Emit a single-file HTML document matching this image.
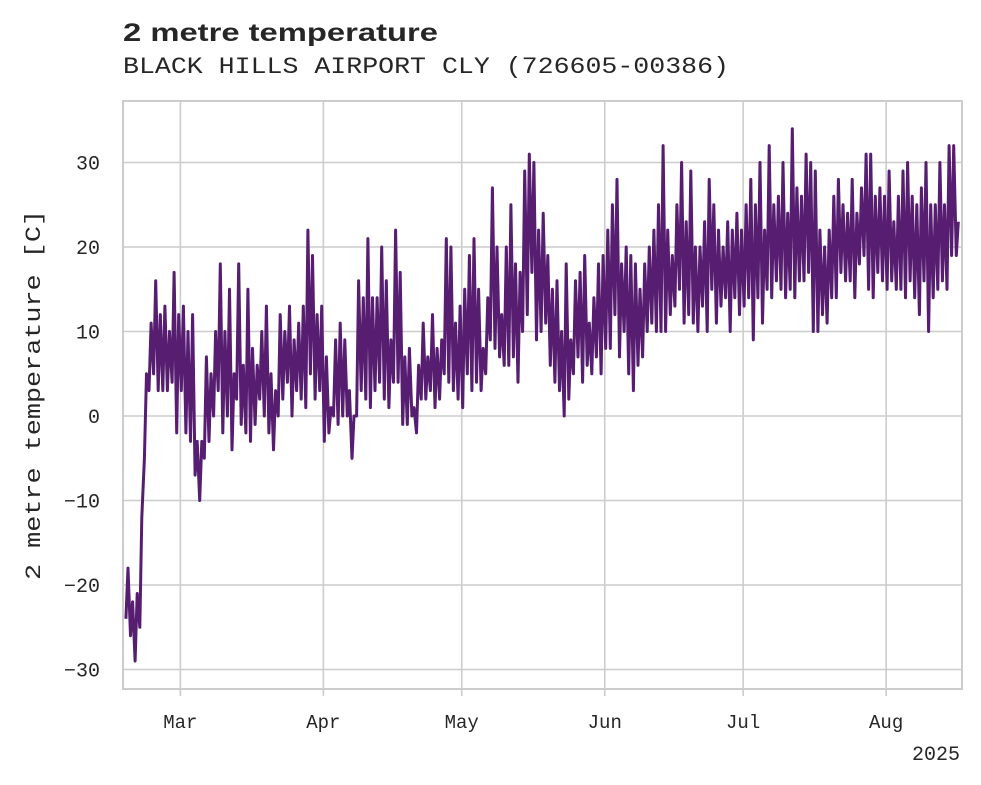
<!DOCTYPE html>
<html><head><meta charset="utf-8"><style>
html,body{margin:0;padding:0;background:#fff;}
svg{display:block;}
text{font-family:"Liberation Mono",monospace;fill:#262626;}
</style></head><body>
<svg id="chart" width="981" height="785" viewBox="0 0 981 785">
<text x="123" y="41" textLength="315" lengthAdjust="spacingAndGlyphs" style="font-family:'Liberation Sans',sans-serif;font-weight:bold;font-size:25px">2 metre temperature</text>
<text x="123" y="73" textLength="606" lengthAdjust="spacingAndGlyphs" style="font-size:23px">BLACK HILLS AIRPORT CLY (726605-00386)</text>
<g id="grid"></g>
<g id="ticks"></g>
<path id="series" fill="none" stroke="#561d71" stroke-width="3" stroke-linejoin="round"></path>
<rect x="123" y="101" width="839" height="588" fill="none" stroke="#cccccc" stroke-width="2"></rect>
<text x="960" y="760" text-anchor="end" style="font-size:20px">2025</text>
<text transform="translate(40,395) rotate(-90)" text-anchor="middle" textLength="370" lengthAdjust="spacingAndGlyphs" style="font-size:22px">2 metre temperature [C]</text>
</svg>
<script>
const startLabel = "2025-02-17";
const dailyMin = [-24,-26,-29,-25,-5,3,5,3,3,3,4,-2,
3,-2,-3,-7,-10,-5,-3,0,3,-2,0,-4,2,-1,-2,-3,-1,2,0,-2,-4,0,2,4,0,3,2,1,5,2,3,
-3,-2,0,-1,0,0,-5,0,3,2,1,3,4,2,1,4,4,-1,-1,0,-2,2,2,3,1,2,5,4,3,2,
1,5,3,4,3,5,9,8,7,6,6,7,4,10,12,17,9,10,11,6,4,3,0,2,5,7,4,6,5,7,5,
8,8,12,7,10,5,3,6,7,10,11,10,10,10,12,13,15,11,12,11,10,13,10,15,11,13,14,10,14,12,
13,14,9,14,11,15,14,16,15,14,15,14,16,16,17,10,10,12,11,14,14,17,16,16,14,18,19,15,14,17,16,
15,16,15,15,14,16,14,12,16,10,14,15,16,15,19,19];
const dailyMax = [-18,-22,-21,-12,5,11,16,12,13,10,17,12,
13,10,12,-3,-3,7,5,10,18,10,15,5,18,6,15,8,6,10,13,5,3,12,10,13,9,11,13,22,19,12,13,
7,1,9,11,9,3,0,16,14,21,14,14,20,16,9,22,17,7,8,1,6,11,7,12,8,9,21,20,11,13,
15,19,21,15,8,14,27,20,12,20,25,18,17,29,31,30,22,24,19,15,16,10,18,9,16,17,19,11,14,18,19,
22,25,28,18,20,19,18,15,18,20,22,25,32,22,19,25,30,23,29,20,20,23,28,25,22,20,23,22,24,22,
25,28,25,30,22,32,25,26,30,24,34,27,26,31,30,29,22,20,22,26,28,25,24,28,24,27,31,31,26,27,26,
29,23,26,29,30,26,25,27,30,25,25,30,25,32,32,23];
const yTicks = [-30,-20,-10,0,10,20,30];
const monthLabels = ["Mar","Apr","May","Jun","Jul","Aug"];
const monthDayIdx = [12,43,73,104,134,165];

const NS="http://www.w3.org/2000/svg";
const yS = v => 416 - 8.45*v;
const xS = d => 125 + d*4.613;
const grid=document.getElementById('grid'), ticks=document.getElementById('ticks');
function mk(tag,attrs,parent){const e=document.createElementNS(NS,tag);for(const k in attrs)e.setAttribute(k,attrs[k]);parent.appendChild(e);return e;}
yTicks.forEach(v=>{
  const g=mk('line',{x1:123,x2:962,y1:yS(v),y2:yS(v),stroke:'#cccccc','stroke-width':1.6},grid);
  
  
  const t=mk('text',{x:100,y:yS(v)+7,'text-anchor':'end','font-size':20},ticks);
  t.textContent=(v<0?'\u2212'+(-v):String(v));
  
  
});
monthLabels.forEach((m,i)=>{
  const x=xS(monthDayIdx[i]);
  const g=mk('line',{x1:x,x2:x,y1:101,y2:689,stroke:'#cccccc','stroke-width':1.6},grid);
  
  
  const tk=mk('line',{x1:x,x2:x,y1:689,y2:696,stroke:'#cccccc','stroke-width':1.6},ticks);
  
  
  const t=mk('text',{x:x,y:728,'text-anchor':'middle','font-size':19},ticks);
  t.textContent=m;
  
  
});
let d='';
for(let i=0;i<dailyMin.length;i++){
  const a=[xS(i+0.2),yS(dailyMin[i])], b=[xS(i+0.65),yS(dailyMax[i])];
  d+=(i?'L':'M')+a[0].toFixed(1)+','+a[1].toFixed(1)+'L'+b[0].toFixed(1)+','+b[1].toFixed(1);
}
document.getElementById('series').setAttribute('d',d);
</script>
</body></html>
